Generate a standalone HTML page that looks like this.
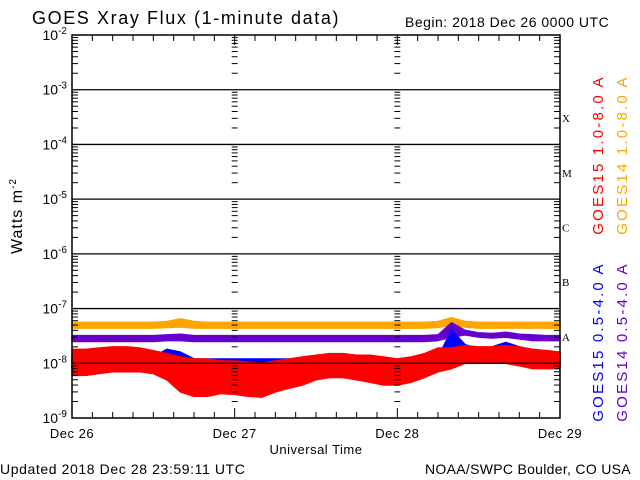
<!DOCTYPE html>
<html><head><meta charset="utf-8"><style>
body{margin:0;background:#fff}
svg{display:block;font-family:"Liberation Sans",sans-serif}
</style></head><body>
<svg id="c" width="640" height="480" viewBox="0 0 640 480">
<text x="32" y="24" font-size="18" letter-spacing="1.6">GOES Xray Flux (1-minute data)</text>
<text x="405" y="27" font-size="14" letter-spacing="0.5">Begin:  2018 Dec 26 0000 UTC</text>
<text x="0" y="474" font-size="14" letter-spacing="0.6">Updated 2018 Dec 28 23:59:11 UTC</text>
<text x="425" y="474" font-size="14" letter-spacing="0.3">NOAA/SWPC Boulder, CO USA</text>
<text x="316" y="454" font-size="13" letter-spacing="0.5" text-anchor="middle">Universal Time</text>
<text transform="translate(22,216) rotate(-90)" font-size="16" letter-spacing="1" text-anchor="middle">Watts m<tspan dy="-6" font-size="10">-2</tspan></text>
<text transform="translate(603,155) rotate(-90)" font-size="15" letter-spacing="2.2" text-anchor="middle" fill="#ff0000">GOES15 1.0-8.0 A</text>
<text transform="translate(627,155) rotate(-90)" font-size="15" letter-spacing="2.2" text-anchor="middle" fill="#ffa500">GOES14 1.0-8.0 A</text>
<text transform="translate(603,342) rotate(-90)" font-size="15" letter-spacing="2.2" text-anchor="middle" fill="#0000ff">GOES15 0.5-4.0 A</text>
<text transform="translate(627,342) rotate(-90)" font-size="15" letter-spacing="2.2" text-anchor="middle" fill="#6600cc">GOES14 0.5-4.0 A</text>
<g id="series"></g>
<g id="axes"></g>
</svg>
<script>
const hours=[0,2,4,6,8,10,12,14,16,18,20,22,24,26,28,30,32,34,36,38,40,42,44,46,48,50,52,54,56,58,60,62,64,66,68,70,72];
const redHi=[1.8e-8,1.8e-8,1.9e-8,2e-8,2e-8,1.9e-8,1.7e-8,1.5e-8,1.3e-8,1.2e-8,1.2e-8,1.1e-8,1.1e-8,1.05e-8,1e-8,1.1e-8,1.2e-8,1.3e-8,1.4e-8,1.5e-8,1.5e-8,1.4e-8,1.4e-8,1.3e-8,1.2e-8,1.3e-8,1.5e-8,1.9e-8,1.9e-8,2.1e-8,2e-8,2e-8,2.1e-8,2e-8,1.8e-8,1.7e-8,1.6e-8];
const redLo=[6e-9,6e-9,6.5e-9,7e-9,7e-9,7e-9,6.5e-9,5e-9,3e-9,2.5e-9,2.5e-9,2.8e-9,2.7e-9,2.5e-9,2.4e-9,3e-9,3.5e-9,4e-9,5e-9,5.5e-9,5.5e-9,5e-9,4.5e-9,4e-9,4e-9,4.5e-9,5.5e-9,7e-9,8e-9,1e-8,1e-8,1e-8,1e-8,9e-9,8e-9,8e-9,8e-9];
const blueHi=[1.3e-8,1.3e-8,1.3e-8,1.3e-8,1.3e-8,1.3e-8,1.3e-8,1.8e-8,1.6e-8,1.2e-8,1.2e-8,1.2e-8,1.2e-8,1.2e-8,1.2e-8,1.2e-8,1.2e-8,1.2e-8,1.2e-8,1.2e-8,1.2e-8,1.2e-8,1.2e-8,1.2e-8,1.1e-8,1.2e-8,1.3e-8,1.3e-8,4e-8,2.2e-8,1.8e-8,2e-8,2.4e-8,2e-8,1.7e-8,1.5e-8,1.4e-8];
const blueLo=[8e-9,8e-9,8e-9,8e-9,8e-9,8e-9,8e-9,1.3e-8,1.2e-8,8e-9,8e-9,8e-9,8e-9,8e-9,8e-9,8e-9,8e-9,8e-9,8e-9,8e-9,8e-9,8e-9,8e-9,8e-9,8e-9,8e-9,8.5e-9,9e-9,1.1e-8,1.3e-8,1.2e-8,1.3e-8,1.5e-8,1.3e-8,1.1e-8,1e-8,1e-8];
const purpleHi=[3.2e-8,3.2e-8,3.2e-8,3.2e-8,3.2e-8,3.2e-8,3.2e-8,3.3e-8,3.4e-8,3.2e-8,3.2e-8,3.2e-8,3.2e-8,3.2e-8,3.2e-8,3.2e-8,3.2e-8,3.2e-8,3.2e-8,3.2e-8,3.2e-8,3.2e-8,3.2e-8,3.2e-8,3.2e-8,3.2e-8,3.2e-8,3.3e-8,5.5e-8,4e-8,3.6e-8,3.5e-8,3.7e-8,3.4e-8,3.3e-8,3.2e-8,3.2e-8];
const purpleLo=[2.5e-8,2.5e-8,2.5e-8,2.5e-8,2.5e-8,2.5e-8,2.5e-8,2.6e-8,2.6e-8,2.5e-8,2.5e-8,2.5e-8,2.5e-8,2.5e-8,2.5e-8,2.5e-8,2.5e-8,2.5e-8,2.5e-8,2.5e-8,2.5e-8,2.5e-8,2.5e-8,2.5e-8,2.5e-8,2.5e-8,2.5e-8,2.6e-8,3e-8,3.3e-8,3e-8,2.9e-8,3e-8,2.8e-8,2.6e-8,2.6e-8,2.6e-8];
const orangeHi=[5.6e-8,5.6e-8,5.6e-8,5.6e-8,5.6e-8,5.6e-8,5.6e-8,5.8e-8,6.5e-8,5.8e-8,5.6e-8,5.6e-8,5.6e-8,5.6e-8,5.6e-8,5.6e-8,5.6e-8,5.6e-8,5.6e-8,5.6e-8,5.6e-8,5.6e-8,5.6e-8,5.6e-8,5.6e-8,5.6e-8,5.6e-8,5.8e-8,6.8e-8,5.8e-8,5.6e-8,5.6e-8,5.6e-8,5.6e-8,5.6e-8,5.6e-8,5.6e-8];
const orangeLo=[4.4e-8,4.4e-8,4.4e-8,4.4e-8,4.4e-8,4.4e-8,4.4e-8,4.5e-8,4.6e-8,4.4e-8,4.4e-8,4.4e-8,4.4e-8,4.4e-8,4.4e-8,4.4e-8,4.4e-8,4.4e-8,4.4e-8,4.4e-8,4.4e-8,4.4e-8,4.4e-8,4.4e-8,4.4e-8,4.4e-8,4.4e-8,4.5e-8,5e-8,4.6e-8,4.4e-8,4.4e-8,4.4e-8,4.4e-8,4.4e-8,4.4e-8,4.4e-8];
const dayLabels=["Dec 26","Dec 27","Dec 28","Dec 29"];
const decadeExps=[-2,-3,-4,-5,-6,-7,-8,-9];
const classLabels=["X","M","C","B","A"];

const L=72,R=560,T=35,B=418;
const NS="http://www.w3.org/2000/svg";
function xs(h){return L+(R-L)*h/72;}
function ys(v){return B-(Math.log10(v)+9)*(B-T)/7;}
function mk(tag,attrs,parent){const e=document.createElementNS(NS,tag);for(const k in attrs)e.setAttribute(k,attrs[k]);parent.appendChild(e);return e;}
const sg=document.getElementById('series'),ag=document.getElementById('axes');

function band(lo,hi,color,name){
  let pts=[];
  for(let i=0;i<hours.length;i++) pts.push(xs(hours[i])+','+ys(hi[i]));
  for(let i=hours.length-1;i>=0;i--) pts.push(xs(hours[i])+','+ys(lo[i]));
  const p=mk('polygon',{points:pts.join(' '),fill:color,stroke:color,'stroke-width':1.5,'stroke-linejoin':'round'},sg);
  
  
}
band(orangeLo,orangeHi,'#ffa500','series-goes14-long');
band(purpleLo,purpleHi,'#6600cc','series-goes14-short');
band(blueLo,blueHi,'#0000ff','series-goes15-short');
band(redLo,redHi,'#ff0000','series-goes15-long');

const fr=mk('rect',{x:L,y:T,width:R-L,height:B-T,fill:'none',stroke:'#000','stroke-width':1.5},ag);


decadeExps.forEach((e,i)=>{
  const y=ys(Math.pow(10,e));
  if(e<-2&&e>-9){const ln=mk('line',{x1:L,x2:R,y1:y,y2:y,stroke:'#000','stroke-width':1.3},ag);
    
    }
  const t=mk('text',{x:L-5,y:y+5,'font-size':14,'text-anchor':'end'},ag);
  
  
  t.innerHTML='10<tspan dy="-6" font-size="10">'+e+'</tspan>';
  if(e>-9){for(let m=2;m<=9;m++){const yy=ys(m*Math.pow(10,e-1));
    [[L,L+6],[R-6,R],[xs(24)-3,xs(24)+3],[xs(48)-3,xs(48)+3]].forEach(a=>mk('line',{x1:a[0],x2:a[1],y1:yy,y2:yy,stroke:'#000','stroke-width':1},ag));}}
});
classLabels.forEach((c,i)=>{
  const y=(ys(Math.pow(10,-3-i))+ys(Math.pow(10,-4-i)))/2;
  const t=mk('text',{x:R+2,y:y+5,'font-size':11,'font-family':'Liberation Serif'},ag);
  
  
  t.textContent=c;
});
for(let h=0;h<=72;h+=3){const x=xs(h);const len=h%24===0?10:6;
  mk('line',{x1:x,x2:x,y1:B,y2:B-len,stroke:'#000','stroke-width':1},ag);
  mk('line',{x1:x,x2:x,y1:T,y2:T+len,stroke:'#000','stroke-width':1},ag);}
dayLabels.forEach((d,i)=>{
  const t=mk('text',{x:xs(i*24),y:438,'font-size':13,'letter-spacing':'0.5','text-anchor':'middle'},ag);
  
  
  t.textContent=d;
});
</script>
</body></html>
